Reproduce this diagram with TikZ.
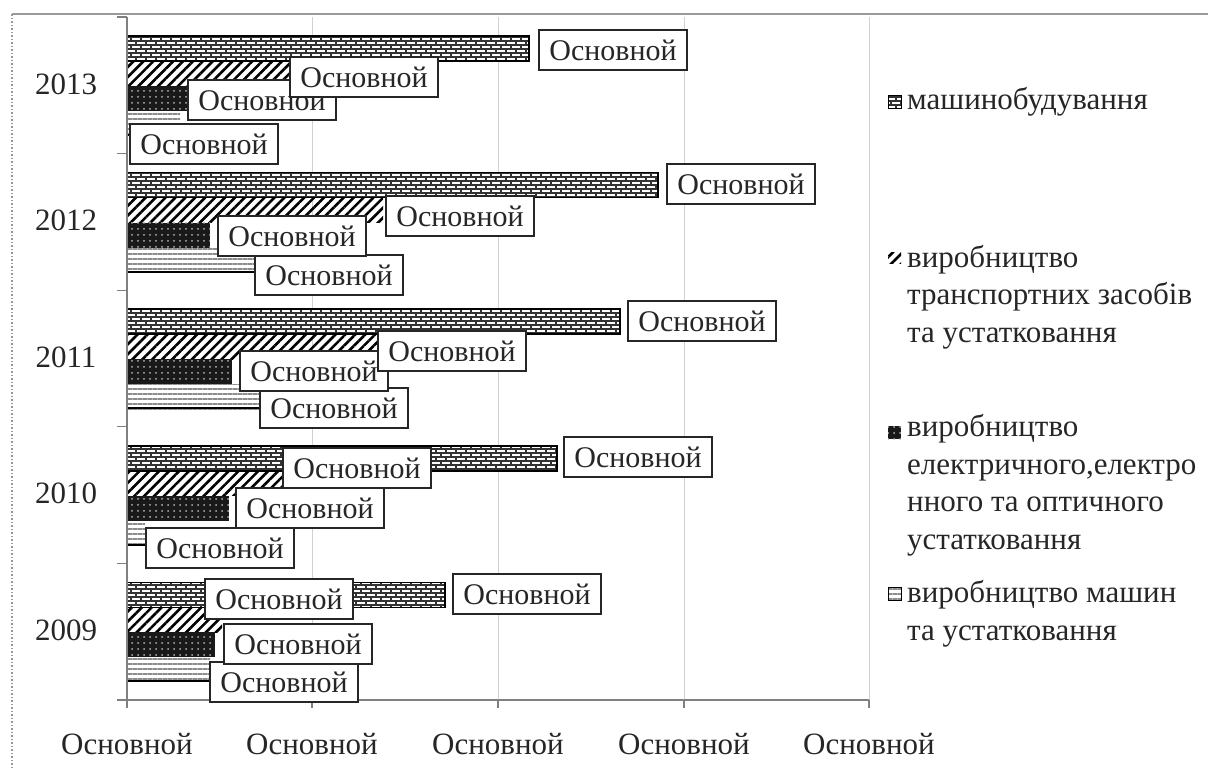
\documentclass[tikz,border=0pt]{standalone}
\usepackage{fontspec}
\setmainfont{Liberation Serif}
\usetikzlibrary{patterns,patterns.meta}
\pgfdeclarepatternformonly{mybricks}{\pgfpoint{-0.5pt}{-0.5pt}}{\pgfpoint{10.5pt}{8.5pt}}{\pgfpoint{10pt}{8pt}}{
  \pgfsetlinewidth{1.1pt}
  \pgfpathmoveto{\pgfpoint{0pt}{0pt}}\pgfpathlineto{\pgfpoint{10pt}{0pt}}
  \pgfpathmoveto{\pgfpoint{0pt}{4pt}}\pgfpathlineto{\pgfpoint{10pt}{4pt}}
  \pgfpathmoveto{\pgfpoint{1pt}{0pt}}\pgfpathlineto{\pgfpoint{1pt}{4pt}}
  \pgfpathmoveto{\pgfpoint{6pt}{4pt}}\pgfpathlineto{\pgfpoint{6pt}{8pt}}
  \pgfusepath{stroke}}
\begin{document}
\begin{tikzpicture}[x=1pt,y=-1pt,
  lab/.style={draw=black!85,line width=2pt,fill=white,minimum width=148pt,minimum height=40pt,inner sep=0pt,font=\fontsize{30}{36}\selectfont,text=black!85},
  mb/.style={preaction={fill=white},pattern=mybricks,pattern color=black!80},
  mbedge/.style={draw=black,line width=1.5pt},
  tr/.style={pattern={Lines[angle=45,distance=7pt,line width=2.6pt]},pattern color=black},
  el/.style={preaction={fill=black!90},pattern={Dots[radius=1pt,distance=6pt]},pattern color=white!70!black},
  ma/.style={pattern={Lines[angle=0,distance=5pt,line width=1.3pt]},pattern color=black!45},
  gridl/.style={draw=black!18,line width=1pt},
  ax/.style={draw=black!50,line width=1.2pt},
  txt/.style={font=\fontsize{31}{37.5}\selectfont,text=black!85,inner sep=0pt}]
\useasboundingbox (0,0) rectangle (1208,769);
% frame
\draw[black!40,line width=1.5pt] (12,14) -- (1208,14);
\draw[black!40,dotted,line width=1.5pt] (12,14) -- (12,769);
% grid
\foreach \gx in {312,498,684,869} \draw[gridl] (\gx,17) -- (\gx,700);
% bars
\foreach \k/\yr/\a/\b/\c/\d in {0/2013/529/295/190/180,1/2012/658/383/210/255,2/2011/620/377/232/260,3/2010/557/284/229/145,4/2009/445/222/215/210}{
  \pgfmathsetmacro\tp{17+136.6*\k+19}
  \path[mb] (127,\tp) rectangle (\a,\tp+25);
  \draw[mbedge] (127,\tp) rectangle (\a,\tp+25);
  \path[tr] (127,\tp+25) rectangle (\b,\tp+50);
  \path[el] (127,\tp+50) rectangle (\c,\tp+75);
  \path[ma] (127,\tp+75) rectangle (\d,\tp+100);
  \draw[black,line width=2pt] (127,\tp+99) -- (\d,\tp+99);
  \node[txt] (y\yr) at (66,\tp+48) {\yr};
}
% axes
\draw[ax] (127,17) -- (127,700);
\draw[ax] (117,700) -- (869,700);
\foreach \ty in {17,153.6,290.2,426.8,563.4} \draw[ax] (117,\ty) -- (127,\ty);
\foreach \gx in {127,312,498,684,869} \draw[ax] (\gx,700) -- (\gx,708);
% data labels (series order: MA, EL, TR, MB)
\foreach \n/\x/\y in {ma13/204/144,ma12/329/275,ma11/334/408,ma10/220/548,ma09/284/682,
  el13/262/100,el12/292/236,el11/314/371,el10/310/508,el09/298/644,
  tr13/364/77,tr12/460/216,tr11/452/351,tr10/357/468,tr09/279/599,
  mb13/613/50,mb12/741/184,mb11/702/321,mb10/638/457,mb09/527/594}
  \node[lab] (L\n) at (\x,\y) {Основной};
% axis tick labels
\foreach \i/\gx in {0/127,1/312,2/498,3/684,4/869}
  \node[txt] (t\i) at (\gx,744) {Основной};
% legend
\path[mb] (888,95) rectangle (901,108); \draw[black,line width=1pt] (888,95) rectangle (901,108);
\path[tr] (888,252) rectangle (901,263);
\path[el] (888,426) rectangle (901,439);
\path[ma,draw=black,line width=1pt] (888,587) rectangle (901,600);
\node[txt,anchor=base west] (lg1) at (907,109) {машинобудування};
\node[txt,anchor=base west,align=left] (lg2) at (907,342) {виробництво\\транспортних засобів\\та устатковання};
\node[txt,anchor=base west,align=left] (lg3) at (907,549) {виробництво\\електричного,електро\\нного та оптичного\\устатковання};
\node[txt,anchor=base west,align=left] (lg4) at (907,640) {виробництво машин\\та устатковання};
\end{tikzpicture}
\end{document}
